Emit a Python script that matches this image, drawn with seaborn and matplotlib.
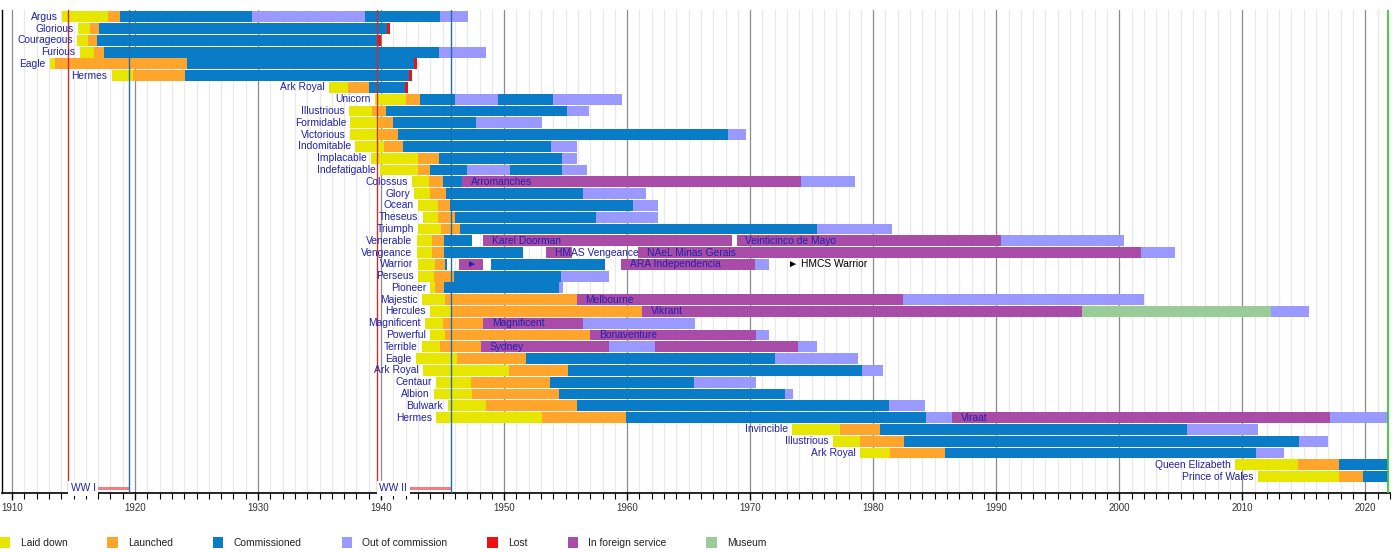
import numpy as np
import pandas as pd
import seaborn as sns
import matplotlib
matplotlib.use("Agg")
import matplotlib.pyplot as plt
from matplotlib.patches import Patch
from matplotlib.ticker import MultipleLocator

# ---------------- data ----------------
ships = ["Argus", "Glorious", "Courageous", "Furious", "Eagle", "Hermes", "Ark Royal",
         "Unicorn", "Illustrious", "Formidable", "Victorious", "Indomitable", "Implacable",
         "Indefatigable", "Colossus", "Glory", "Ocean", "Theseus", "Triumph", "Venerable",
         "Vengeance", "Warrior", "Perseus", "Pioneer", "Majestic", "Hercules", "Magnificent",
         "Powerful", "Terrible", "Eagle", "Ark Royal", "Centaur", "Albion", "Bulwark",
         "Hermes", "Invincible", "Illustrious", "Ark Royal", "Queen Elizabeth",
         "Prince of Wales"]

chart_date = 2021.85

# (ship index, start year, end year)
laid_down_spans = [
    (0, 1914.1, 1917.8), (1, 1915.4, 1916.3), (2, 1915.3, 1916.2), (3, 1915.5, 1916.7),
    (4, 1913.1, 1913.5), (5, 1918.1, 1919.8), (6, 1935.8, 1937.3), (7, 1939.5, 1942.0),
    (8, 1937.4, 1939.3), (9, 1937.5, 1939.8), (10, 1937.5, 1939.8), (11, 1937.9, 1940.2),
    (12, 1939.2, 1943.0), (13, 1939.9, 1943.0), (14, 1942.5, 1943.9), (15, 1942.7, 1944.0),
    (16, 1943.0, 1944.6), (17, 1943.4, 1944.6), (18, 1943.0, 1944.9), (19, 1942.9, 1944.1),
    (20, 1942.9, 1944.1), (21, 1943.0, 1944.4), (22, 1943.0, 1944.3), (23, 1944.0, 1944.4),
    (24, 1943.3, 1945.2), (25, 1944.0, 1945.7), (26, 1943.6, 1945.0), (27, 1944.0, 1945.2),
    (28, 1943.3, 1944.8), (29, 1942.8, 1946.2), (30, 1943.4, 1950.4), (31, 1944.5, 1947.3),
    (32, 1944.3, 1947.4), (33, 1945.4, 1948.5), (34, 1944.5, 1953.1), (35, 1973.4, 1977.3),
    (36, 1976.7, 1978.9), (37, 1978.9, 1981.4), (38, 2009.4, 2014.5), (39, 2011.3, 2017.9)]

launched_spans = [
    (0, 1917.8, 1918.8), (1, 1916.3, 1917.1), (2, 1916.2, 1916.9), (3, 1916.7, 1917.5),
    (4, 1913.5, 1924.2), (5, 1919.8, 1924.1), (6, 1937.3, 1939.0), (7, 1942.0, 1943.2),
    (8, 1939.3, 1940.4), (9, 1939.8, 1941.0), (10, 1939.8, 1941.4), (11, 1940.2, 1941.8),
    (12, 1943.0, 1944.7), (13, 1943.0, 1944.0), (14, 1943.9, 1945.0), (15, 1944.0, 1945.3),
    (16, 1944.6, 1945.6), (17, 1944.6, 1946.0), (18, 1944.9, 1946.4), (19, 1944.1, 1945.1),
    (20, 1944.1, 1945.1), (21, 1944.4, 1945.2), (22, 1944.3, 1945.9), (23, 1944.4, 1945.1),
    (24, 1945.2, 1955.9), (25, 1945.7, 1961.2), (26, 1945.0, 1948.3), (27, 1945.2, 1957.0),
    (28, 1944.8, 1948.1), (29, 1946.2, 1951.8), (30, 1950.4, 1955.2), (31, 1947.3, 1953.7),
    (32, 1947.4, 1954.5), (33, 1948.5, 1955.9), (34, 1953.1, 1959.9), (35, 1977.3, 1980.55),
    (36, 1978.9, 1982.5), (37, 1981.4, 1985.8), (38, 2014.5, 2017.9), (39, 2017.9, 2019.8)]

commissioned_spans = [
    (0, 1918.8, 1929.5), (0, 1938.7, 1944.8), (1, 1917.1, 1940.45), (2, 1916.9, 1939.75),
    (3, 1917.5, 1944.7), (4, 1924.2, 1942.7), (5, 1924.1, 1942.25), (6, 1939.0, 1941.95),
    (7, 1943.2, 1946.0), (7, 1949.5, 1954.0), (8, 1940.4, 1955.1), (9, 1941.0, 1947.7),
    (10, 1941.4, 1968.2), (11, 1941.8, 1953.8), (12, 1944.7, 1954.7), (13, 1944.0, 1947.0),
    (13, 1950.5, 1954.7), (14, 1945.0, 1946.6), (15, 1945.3, 1956.4), (16, 1945.6, 1960.5),
    (17, 1946.0, 1957.5), (18, 1946.4, 1975.4), (19, 1945.1, 1947.4), (20, 1945.1, 1951.5),
    (21, 1945.2, 1945.35), (21, 1948.9, 1958.2), (22, 1945.9, 1954.6), (23, 1945.1, 1954.5),
    (29, 1951.8, 1972.0), (30, 1955.2, 1979.1), (31, 1953.7, 1965.4), (32, 1954.5, 1972.85),
    (33, 1955.9, 1981.3), (34, 1959.9, 1984.3), (35, 1980.55, 2005.5), (36, 1982.5, 2014.6),
    (37, 1985.8, 2011.1), (38, 2017.9, chart_date), (39, 2019.8, chart_date)]

out_of_commission_spans = [
    (0, 1929.5, 1938.7), (0, 1944.8, 1947.1), (3, 1944.7, 1948.5), (7, 1946.0, 1949.5),
    (7, 1954.0, 1959.6), (8, 1955.1, 1956.9), (9, 1947.7, 1953.1), (10, 1968.2, 1969.7),
    (11, 1953.8, 1955.9), (12, 1954.7, 1955.9), (13, 1947.0, 1950.5), (13, 1954.7, 1956.7),
    (14, 1974.1, 1978.5), (15, 1956.4, 1961.5), (16, 1960.5, 1962.5), (17, 1957.5, 1962.5),
    (18, 1975.4, 1981.5), (19, 1990.4, 2000.4), (20, 2001.8, 2004.5), (21, 1970.4, 1971.5),
    (22, 1954.6, 1958.5), (23, 1954.5, 1954.8), (24, 1982.4, 2002.05), (25, 2012.3, 2015.4),
    (26, 1956.4, 1965.5), (27, 1970.5, 1971.5), (28, 1958.5, 1962.3), (28, 1973.9, 1975.45),
    (29, 1972.0, 1978.8), (30, 1979.1, 1980.8), (31, 1965.4, 1970.5), (32, 1972.85, 1973.5),
    (33, 1981.3, 1984.2), (34, 1984.3, 1986.4), (34, 2017.1, chart_date), (35, 2005.5, 2011.3),
    (36, 2014.6, 2016.95), (37, 2011.1, 2013.4)]

lost_spans = [(1, 1940.45, 1940.7), (2, 1939.75, 1940.0), (4, 1942.7, 1942.9),
              (5, 1942.25, 1942.5), (6, 1941.95, 1942.2)]

# (ship index, start, end, name in foreign service)
foreign_spans = [
    (14, 1946.6, 1974.1, "Arromanches"), (19, 1948.3, 1968.5, "Karel Doorman"),
    (19, 1968.9, 1990.4, "Veinticinco de Mayo"), (20, 1953.4, 1955.5, "HMAS Vengeance"),
    (20, 1960.9, 2001.8, "NAeL Minas Gerais"), (21, 1946.3, 1948.3, "►"),
    (21, 1959.5, 1970.4, "ARA Independencia"), (24, 1955.9, 1982.4, "Melbourne"),
    (25, 1961.2, 1997.0, "Vikrant"), (26, 1948.3, 1956.4, "Magnificent"),
    (27, 1957.0, 1970.5, "Bonaventure"), (28, 1948.1, 1958.5, "Sydney"),
    (28, 1962.3, 1973.9, ""), (34, 1986.4, 2017.1, "Viraat")]

museum_spans = [(25, 1997.0, 2012.3)]

warrior_note = "► HMCS Warrior"

wars = ["WW I", "WW II"]
war_start = [1914.57, 1939.67]
war_end = [1919.49, 1945.67]

statuses = ["Laid down", "Launched", "Commissioned", "Out of commission", "Lost",
            "In foreign service", "Museum"]
colors = ["#e6e600", "#ffa52c", "#0a7bc6", "#9999ff", "#ee1111", "#a84ca8", "#99cc99"]

# ---------------- build table ----------------
span_lists = [laid_down_spans, launched_spans, commissioned_spans, out_of_commission_spans,
              lost_spans, [s[:3] for s in foreign_spans], museum_spans]
records = []
for status, spans in zip(statuses, span_lists):
    for ship, start, end in spans:
        records.append(dict(status=status, ship=ship, start=start, end=end))
df = pd.DataFrame(records)
palette = dict(zip(statuses, colors))

# ---------------- plot ----------------
sns.set_theme(style="white")
plt.rcParams["font.family"] = ["Liberation Sans", "DejaVu Sans"]

TEXT = "#2222aa"
FS = 7.4
W, H = 1400, 552
fig = plt.figure(figsize=(W / 100, H / 100), dpi=100)
ax = fig.add_axes([2.16 / W, 59.3 / H, 1387.74 / W, 482.7 / H])

for status in statuses:
    g = df[df.status == status]
    ax.barh(g.ship, g.end - g.start, left=g.start, height=0.92,
            color=palette[status], linewidth=0, zorder=2)

# ship names
first_start = df.groupby("ship").start.min()
for i, name in enumerate(ships):
    ax.text(first_start[i] - 0.35, i, name, ha="right", va="center",
            fontsize=FS, color=TEXT, zorder=5)

# foreign service names
for ship, start, end, name in foreign_spans:
    if name:
        ax.text(start + 0.7, ship, name, ha="left", va="center",
                fontsize=FS, color=TEXT, zorder=5)

w_idx = ships.index("Warrior")
w_end = df[df.ship == w_idx].end.max()
ax.text(w_end + 1.6, w_idx, warrior_note, ha="left", va="center",
        fontsize=FS, color="black", zorder=5)

# wars
war_row = len(ships)
for name, s, e in zip(wars, war_start, war_end):
    ax.barh(war_row, e - s, left=s, height=0.28, color="#f08080", linewidth=0, zorder=2)
    ax.text(s + 0.2, war_row, name, ha="left", va="center", fontsize=FS, color=TEXT,
            zorder=5, bbox=dict(facecolor="white", edgecolor="none", pad=2))
    ax.axvline(s, color="#d42a2a", lw=1, zorder=4)
    ax.axvline(e, color="#1f6fb0", lw=1, zorder=4)
ax.axvline(chart_date, color="#33cc33", lw=1.3, zorder=4)

# axes
ax.set_xlim(1909.2, 2022.0)
ax.set_ylim(war_row + 0.37, -0.57)
ax.set_xticks(np.arange(1910, 2021, 10))
ax.xaxis.set_minor_locator(MultipleLocator(1))
ax.set_yticks([])
ax.set_axisbelow(True)
ax.grid(True, axis="x", which="major", color="#8a8a8a", lw=0.9)
ax.grid(True, axis="x", which="minor", color="#e8e8e8", lw=0.9)
ax.tick_params(axis="x", which="major", bottom=True, direction="out", length=5, width=1,
               color="black", labelsize=7, labelcolor="#333333", pad=2.5)
ax.tick_params(axis="x", which="minor", bottom=True, direction="out", length=4, width=0.8,
               color="black")
for side in ["top", "right"]:
    ax.spines[side].set_visible(False)
ax.spines["left"].set_color("black")
ax.spines["left"].set_linewidth(1)
ax.spines["bottom"].set_color("black")
ax.spines["bottom"].set_linewidth(1.2)

handles = [Patch(facecolor=c, edgecolor="none") for c in colors]
fig.legend(handles, statuses, loc="center left", bbox_to_anchor=(0, 9.5 / H), ncol=7,
           frameon=False, fontsize=7.4, handlelength=1.0, handleheight=1.2,
           handletextpad=1.0, columnspacing=3.9, borderpad=0, borderaxespad=0,
           labelcolor="#222222")

fig.savefig("out.png", dpi=100)
